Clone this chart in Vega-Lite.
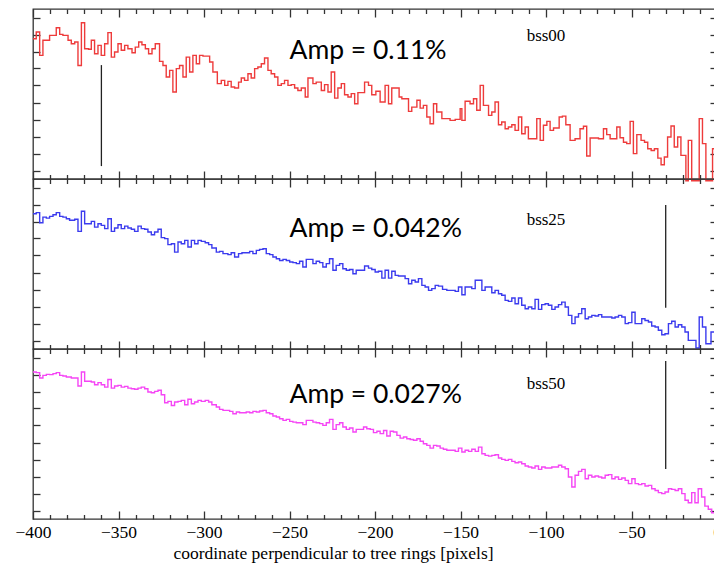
{
  "$schema": "https://vega.github.io/schema/vega-lite/v6.json",
  "padding": {"left": 14, "top": 7, "right": 0, "bottom": 0},
  "background": "white",
  "config": {
    "view": {"stroke": "#333333", "strokeWidth": 1.3},
    "concat": {"spacing": 0},
    "axis": {"grid": false, "domain": false, "tickColor": "#333333", "tickWidth": 1.3}
  },
  "datasets": {
    "bss00": [
      {"x": -400, "y": 8.75}, {"x": -398.1, "y": 9.15}, {"x": -396.1, "y": 7.77}, {"x": -394.2, "y": 8.66}, {"x": -390.3, "y": 8.95},
      {"x": -386.4, "y": 9.40}, {"x": -384.4, "y": 9.01}, {"x": -382.5, "y": 8.95}, {"x": -379.5, "y": 8.66}, {"x": -377.6, "y": 8.46},
      {"x": -375.6, "y": 8.56}, {"x": -373.7, "y": 7.18}, {"x": -371.7, "y": 9.69}, {"x": -369.8, "y": 8.16}, {"x": -367.5, "y": 8.13},
      {"x": -365.9, "y": 8.66}, {"x": -364.0, "y": 7.87}, {"x": -362.0, "y": 8.36}, {"x": -360.1, "y": 7.77}, {"x": -358.1, "y": 8.46},
      {"x": -356.2, "y": 9.11}, {"x": -354.2, "y": 7.67}, {"x": -352.3, "y": 7.97}, {"x": -350.3, "y": 8.46}, {"x": -348.4, "y": 8.07},
      {"x": -346.4, "y": 8.36}, {"x": -344.5, "y": 8.16}, {"x": -342.1, "y": 7.93}, {"x": -340.2, "y": 8.26}, {"x": -338.2, "y": 8.56},
      {"x": -336.3, "y": 8.40}, {"x": -334.3, "y": 8.16}, {"x": -332.4, "y": 7.87}, {"x": -330.4, "y": 8.16}, {"x": -328.5, "y": 8.46},
      {"x": -326.0, "y": 7.42}, {"x": -324.0, "y": 7.18}, {"x": -322.1, "y": 6.50}, {"x": -320.1, "y": 6.89}, {"x": -318.2, "y": 5.62},
      {"x": -316.2, "y": 6.99}, {"x": -314.3, "y": 7.18}, {"x": -312.3, "y": 6.50}, {"x": -310.4, "y": 7.67}, {"x": -308.4, "y": 6.79},
      {"x": -306.5, "y": 7.77}, {"x": -304.5, "y": 7.28}, {"x": -302.6, "y": 7.77}, {"x": -300.6, "y": 7.73}, {"x": -296.7, "y": 7.38},
      {"x": -294.8, "y": 6.79}, {"x": -292.2, "y": 6.11}, {"x": -289.9, "y": 6.30}, {"x": -287.9, "y": 6.01}, {"x": -286.0, "y": 6.24},
      {"x": -284.1, "y": 5.91}, {"x": -282.1, "y": 5.85}, {"x": -279.8, "y": 6.20}, {"x": -278.2, "y": 6.44}, {"x": -276.3, "y": 6.30},
      {"x": -274.3, "y": 6.69}, {"x": -272.4, "y": 6.44}, {"x": -270.4, "y": 6.99}, {"x": -268.5, "y": 7.09}, {"x": -266.5, "y": 7.28},
      {"x": -264.6, "y": 7.62}, {"x": -262.6, "y": 6.89}, {"x": -260.7, "y": 6.69}, {"x": -258.7, "y": 6.50}, {"x": -256.8, "y": 6.01},
      {"x": -254.8, "y": 6.11}, {"x": -252.9, "y": 6.30}, {"x": -250.9, "y": 6.01}, {"x": -249.0, "y": 6.05}, {"x": -247.0, "y": 5.85},
      {"x": -245.1, "y": 5.71}, {"x": -243.1, "y": 5.85}, {"x": -240.8, "y": 5.32}, {"x": -239.2, "y": 6.44}, {"x": -236.3, "y": 6.11},
      {"x": -234.4, "y": 6.20}, {"x": -231.4, "y": 5.71}, {"x": -229.5, "y": 6.05}, {"x": -227.5, "y": 5.62}, {"x": -225.6, "y": 6.79},
      {"x": -223.6, "y": 5.26}, {"x": -221.7, "y": 5.85}, {"x": -219.7, "y": 6.11}, {"x": -217.8, "y": 5.46}, {"x": -215.8, "y": 5.32},
      {"x": -213.9, "y": 5.52}, {"x": -211.9, "y": 4.93}, {"x": -210.0, "y": 5.58}, {"x": -206.1, "y": 6.20}, {"x": -203.8, "y": 6.01},
      {"x": -201.9, "y": 5.46}, {"x": -199.5, "y": 5.66}, {"x": -197.0, "y": 5.03}, {"x": -194.1, "y": 6.01}, {"x": -192.1, "y": 4.93},
      {"x": -190.2, "y": 5.85}, {"x": -185.9, "y": 5.32}, {"x": -184.3, "y": 5.22}, {"x": -180.4, "y": 4.48}, {"x": -178.5, "y": 4.73},
      {"x": -175.5, "y": 5.13}, {"x": -173.6, "y": 4.67}, {"x": -171.7, "y": 4.83}, {"x": -169.7, "y": 4.15}, {"x": -167.8, "y": 3.75},
      {"x": -165.8, "y": 4.93}, {"x": -163.9, "y": 4.44}, {"x": -160.9, "y": 4.05}, {"x": -156.1, "y": 3.95}, {"x": -153.1, "y": 4.01},
      {"x": -150.2, "y": 4.64}, {"x": -149.2, "y": 3.95}, {"x": -147.3, "y": 5.07}, {"x": -144.4, "y": 4.93}, {"x": -142.4, "y": 5.22},
      {"x": -140.5, "y": 4.54}, {"x": -138.5, "y": 6.01}, {"x": -136.6, "y": 4.83}, {"x": -133.6, "y": 4.24}, {"x": -131.7, "y": 4.44},
      {"x": -129.8, "y": 5.03}, {"x": -127.8, "y": 3.69}, {"x": -125.9, "y": 3.85}, {"x": -123.9, "y": 3.46}, {"x": -122.0, "y": 3.56},
      {"x": -120.0, "y": 3.69}, {"x": -118.1, "y": 3.36}, {"x": -116.1, "y": 4.15}, {"x": -114.2, "y": 3.16}, {"x": -112.2, "y": 3.56},
      {"x": -110.3, "y": 2.87}, {"x": -105.4, "y": 4.05}, {"x": -103.4, "y": 2.77}, {"x": -101.5, "y": 3.66}, {"x": -99.5, "y": 3.89},
      {"x": -97.6, "y": 3.36}, {"x": -95.6, "y": 3.50}, {"x": -92.3, "y": 4.15}, {"x": -90.4, "y": 4.20}, {"x": -88.4, "y": 3.69},
      {"x": -85.9, "y": 2.77}, {"x": -83.0, "y": 2.87}, {"x": -80.1, "y": 3.46}, {"x": -78.1, "y": 3.60}, {"x": -76.2, "y": 1.85},
      {"x": -74.2, "y": 2.91}, {"x": -69.3, "y": 2.87}, {"x": -66.4, "y": 3.46}, {"x": -64.5, "y": 3.11}, {"x": -62.5, "y": 2.87},
      {"x": -58.6, "y": 3.56}, {"x": -56.7, "y": 2.93}, {"x": -54.7, "y": 2.66}, {"x": -52.8, "y": 2.58}, {"x": -50.8, "y": 3.89},
      {"x": -48.9, "y": 1.99}, {"x": -46.9, "y": 3.11}, {"x": -44.4, "y": 2.77}, {"x": -42.4, "y": 2.66}, {"x": -40.5, "y": 2.28},
      {"x": -38.5, "y": 2.18}, {"x": -36.6, "y": 2.28}, {"x": -34.6, "y": 1.73}, {"x": -32.7, "y": 1.34}, {"x": -30.8, "y": 1.79},
      {"x": -28.9, "y": 2.97}, {"x": -26.9, "y": 3.62}, {"x": -25.0, "y": 2.38}, {"x": -23.0, "y": 2.97}, {"x": -21.1, "y": 1.89},
      {"x": -18.2, "y": 0.4}, {"x": -16.8, "y": 2.77}, {"x": -14.8, "y": 0.4}, {"x": -10.4, "y": 4.05}, {"x": -8.5, "y": 2.58},
      {"x": -6.5, "y": 0.4}, {"x": -2.6, "y": 2.28}, {"x": 0, "y": 2.28}
    ],
    "bss25": [
      {"x": -400, "y": 8.46}, {"x": -398.1, "y": 8.52}, {"x": -396.1, "y": 7.93}, {"x": -394.2, "y": 8.26}, {"x": -392.2, "y": 8.20},
      {"x": -390.3, "y": 8.30}, {"x": -388.3, "y": 8.40}, {"x": -386.4, "y": 8.52}, {"x": -384.4, "y": 8.30}, {"x": -382.5, "y": 8.26},
      {"x": -380.5, "y": 8.16}, {"x": -378.6, "y": 8.07}, {"x": -375.6, "y": 8.13}, {"x": -373.7, "y": 7.42}, {"x": -371.7, "y": 8.60},
      {"x": -369.8, "y": 7.87}, {"x": -365.9, "y": 8.01}, {"x": -364.0, "y": 7.67}, {"x": -362.0, "y": 7.87}, {"x": -360.1, "y": 7.77},
      {"x": -358.1, "y": 7.58}, {"x": -356.2, "y": 8.16}, {"x": -354.2, "y": 7.42}, {"x": -352.3, "y": 7.62}, {"x": -350.3, "y": 7.81},
      {"x": -348.4, "y": 7.58}, {"x": -346.4, "y": 7.73}, {"x": -344.5, "y": 7.62}, {"x": -342.5, "y": 7.54}, {"x": -340.6, "y": 7.42},
      {"x": -338.6, "y": 7.73}, {"x": -336.7, "y": 7.58}, {"x": -334.7, "y": 7.54}, {"x": -332.8, "y": 7.38}, {"x": -330.8, "y": 7.22},
      {"x": -328.9, "y": 7.38}, {"x": -326.9, "y": 7.54}, {"x": -325.0, "y": 7.05}, {"x": -323.0, "y": 6.99}, {"x": -321.1, "y": 6.64},
      {"x": -319.1, "y": 6.69}, {"x": -317.2, "y": 6.20}, {"x": -315.2, "y": 6.79}, {"x": -313.3, "y": 6.69}, {"x": -311.3, "y": 6.89},
      {"x": -309.4, "y": 6.50}, {"x": -307.4, "y": 6.89}, {"x": -305.5, "y": 6.69}, {"x": -303.5, "y": 6.89}, {"x": -301.6, "y": 6.83},
      {"x": -299.3, "y": 6.75}, {"x": -297.3, "y": 6.64}, {"x": -295.4, "y": 6.44}, {"x": -292.8, "y": 6.20}, {"x": -290.9, "y": 6.24},
      {"x": -288.9, "y": 6.11}, {"x": -286.0, "y": 6.05}, {"x": -284.1, "y": 6.16}, {"x": -282.1, "y": 5.91}, {"x": -279.8, "y": 6.11},
      {"x": -277.8, "y": 6.16}, {"x": -273.3, "y": 6.24}, {"x": -271.4, "y": 6.11}, {"x": -269.4, "y": 6.30}, {"x": -267.5, "y": 6.36},
      {"x": -265.5, "y": 6.40}, {"x": -263.6, "y": 6.11}, {"x": -261.6, "y": 6.05}, {"x": -259.7, "y": 5.91}, {"x": -257.7, "y": 5.81},
      {"x": -255.8, "y": 5.71}, {"x": -253.8, "y": 5.77}, {"x": -251.9, "y": 5.71}, {"x": -249.9, "y": 5.62}, {"x": -248.0, "y": 5.58},
      {"x": -246.0, "y": 5.52}, {"x": -244.1, "y": 5.66}, {"x": -242.2, "y": 5.32}, {"x": -240.2, "y": 5.77}, {"x": -236.3, "y": 5.52},
      {"x": -234.4, "y": 5.66}, {"x": -232.4, "y": 5.58}, {"x": -230.5, "y": 5.32}, {"x": -228.5, "y": 5.52}, {"x": -226.6, "y": 5.81},
      {"x": -224.6, "y": 5.13}, {"x": -222.7, "y": 5.42}, {"x": -220.7, "y": 5.52}, {"x": -218.8, "y": 5.22}, {"x": -216.8, "y": 5.13},
      {"x": -214.9, "y": 5.18}, {"x": -212.9, "y": 4.93}, {"x": -211.0, "y": 5.13}, {"x": -206.1, "y": 5.38}, {"x": -203.8, "y": 5.26},
      {"x": -201.9, "y": 5.18}, {"x": -199.9, "y": 5.03}, {"x": -198.0, "y": 5.07}, {"x": -196.0, "y": 4.67}, {"x": -194.1, "y": 5.13},
      {"x": -192.1, "y": 4.67}, {"x": -190.2, "y": 5.07}, {"x": -188.2, "y": 4.83}, {"x": -186.3, "y": 4.79}, {"x": -182.4, "y": 4.64},
      {"x": -180.4, "y": 4.34}, {"x": -178.5, "y": 4.54}, {"x": -176.5, "y": 4.44}, {"x": -174.6, "y": 4.64}, {"x": -172.6, "y": 4.24},
      {"x": -170.7, "y": 4.15}, {"x": -168.7, "y": 3.95}, {"x": -166.8, "y": 4.05}, {"x": -164.8, "y": 4.24}, {"x": -162.9, "y": 4.20},
      {"x": -160.5, "y": 4.01}, {"x": -158.0, "y": 3.95}, {"x": -153.1, "y": 3.89}, {"x": -151.2, "y": 4.15}, {"x": -149.2, "y": 3.69},
      {"x": -147.3, "y": 4.15}, {"x": -143.4, "y": 4.05}, {"x": -141.4, "y": 4.54}, {"x": -137.5, "y": 3.95}, {"x": -135.6, "y": 4.15},
      {"x": -131.7, "y": 3.81}, {"x": -129.8, "y": 3.95}, {"x": -127.8, "y": 3.75}, {"x": -125.9, "y": 3.66}, {"x": -123.9, "y": 3.36},
      {"x": -122.0, "y": 3.30}, {"x": -120.0, "y": 3.50}, {"x": -118.1, "y": 3.16}, {"x": -116.1, "y": 3.50}, {"x": -114.2, "y": 3.07},
      {"x": -112.2, "y": 2.87}, {"x": -110.3, "y": 2.97}, {"x": -108.3, "y": 2.87}, {"x": -106.4, "y": 3.42}, {"x": -104.4, "y": 2.83},
      {"x": -102.5, "y": 3.11}, {"x": -100.5, "y": 3.16}, {"x": -98.6, "y": 3.07}, {"x": -96.6, "y": 2.83}, {"x": -94.7, "y": 2.97},
      {"x": -92.7, "y": 3.11}, {"x": -90.8, "y": 3.26}, {"x": -88.8, "y": 2.97}, {"x": -86.9, "y": 2.48}, {"x": -84.9, "y": 1.99},
      {"x": -83.0, "y": 2.38}, {"x": -81.0, "y": 2.58}, {"x": -79.1, "y": 2.87}, {"x": -77.1, "y": 2.28}, {"x": -75.2, "y": 2.38},
      {"x": -73.2, "y": 2.48}, {"x": -71.3, "y": 2.44}, {"x": -69.3, "y": 2.52}, {"x": -67.4, "y": 2.38}, {"x": -61.5, "y": 2.32},
      {"x": -59.6, "y": 2.38}, {"x": -57.6, "y": 2.48}, {"x": -55.7, "y": 2.38}, {"x": -53.7, "y": 1.99}, {"x": -51.8, "y": 2.05},
      {"x": -49.8, "y": 2.66}, {"x": -47.9, "y": 1.99}, {"x": -44.0, "y": 2.28}, {"x": -42.1, "y": 2.18}, {"x": -40.1, "y": 2.09},
      {"x": -38.2, "y": 1.85}, {"x": -36.2, "y": 1.79}, {"x": -34.3, "y": 1.60}, {"x": -32.3, "y": 1.34}, {"x": -30.4, "y": 1.40},
      {"x": -28.4, "y": 1.99}, {"x": -26.5, "y": 2.13}, {"x": -24.5, "y": 1.79}, {"x": -22.6, "y": 1.93}, {"x": -20.6, "y": 1.79},
      {"x": -18.7, "y": 1.50}, {"x": -16.8, "y": 1.01}, {"x": -12.3, "y": 0.56}, {"x": -10.4, "y": 2.38}, {"x": -8.5, "y": 1.79},
      {"x": -6.5, "y": 0.81}, {"x": -3.5, "y": 1.50}, {"x": 0, "y": 1.50}
    ],
    "bss50": [
      {"x": -400, "y": 9.15}, {"x": -398.1, "y": 9.11}, {"x": -396.1, "y": 8.79}, {"x": -394.2, "y": 8.95}, {"x": -392.2, "y": 9.01},
      {"x": -390.3, "y": 8.99}, {"x": -388.3, "y": 9.05}, {"x": -386.4, "y": 9.11}, {"x": -384.4, "y": 8.95}, {"x": -382.5, "y": 8.91},
      {"x": -380.5, "y": 8.85}, {"x": -377.6, "y": 8.79}, {"x": -373.7, "y": 8.32}, {"x": -371.7, "y": 9.15}, {"x": -369.8, "y": 8.60},
      {"x": -365.9, "y": 8.56}, {"x": -364.0, "y": 8.40}, {"x": -362.0, "y": 8.52}, {"x": -360.1, "y": 8.40}, {"x": -358.1, "y": 8.26},
      {"x": -356.2, "y": 8.71}, {"x": -354.2, "y": 8.20}, {"x": -352.3, "y": 8.32}, {"x": -350.3, "y": 8.36}, {"x": -348.4, "y": 8.26},
      {"x": -346.4, "y": 8.30}, {"x": -344.5, "y": 8.20}, {"x": -342.5, "y": 8.16}, {"x": -340.6, "y": 8.13}, {"x": -338.6, "y": 8.20},
      {"x": -336.7, "y": 8.26}, {"x": -334.7, "y": 8.16}, {"x": -332.8, "y": 7.97}, {"x": -330.8, "y": 7.93}, {"x": -328.9, "y": 8.01},
      {"x": -326.9, "y": 8.07}, {"x": -325.0, "y": 7.81}, {"x": -323.0, "y": 7.34}, {"x": -321.1, "y": 7.42}, {"x": -319.1, "y": 7.18},
      {"x": -317.2, "y": 7.38}, {"x": -315.2, "y": 7.42}, {"x": -313.3, "y": 7.48}, {"x": -311.3, "y": 7.22}, {"x": -309.4, "y": 7.54},
      {"x": -307.4, "y": 7.28}, {"x": -305.5, "y": 7.38}, {"x": -303.5, "y": 7.48}, {"x": -301.6, "y": 7.42}, {"x": -299.3, "y": 7.48},
      {"x": -297.3, "y": 7.38}, {"x": -295.4, "y": 7.22}, {"x": -292.8, "y": 7.09}, {"x": -290.9, "y": 6.95}, {"x": -288.9, "y": 6.89},
      {"x": -285.0, "y": 6.83}, {"x": -283.1, "y": 6.69}, {"x": -281.1, "y": 6.79}, {"x": -279.2, "y": 6.75}, {"x": -275.3, "y": 6.79},
      {"x": -273.3, "y": 6.75}, {"x": -271.4, "y": 6.83}, {"x": -269.4, "y": 6.79}, {"x": -267.5, "y": 6.85}, {"x": -265.5, "y": 6.89},
      {"x": -263.6, "y": 6.75}, {"x": -261.6, "y": 6.69}, {"x": -259.7, "y": 6.56}, {"x": -257.7, "y": 6.50}, {"x": -255.8, "y": 6.40},
      {"x": -253.8, "y": 6.30}, {"x": -251.9, "y": 6.36}, {"x": -249.9, "y": 6.24}, {"x": -248.0, "y": 6.20}, {"x": -246.0, "y": 6.16},
      {"x": -242.2, "y": 6.05}, {"x": -240.2, "y": 6.30}, {"x": -236.3, "y": 6.20}, {"x": -234.4, "y": 6.16}, {"x": -232.4, "y": 6.11},
      {"x": -230.5, "y": 6.01}, {"x": -228.5, "y": 6.16}, {"x": -226.6, "y": 6.36}, {"x": -224.6, "y": 5.77}, {"x": -222.7, "y": 6.05},
      {"x": -220.7, "y": 6.16}, {"x": -218.8, "y": 5.91}, {"x": -216.8, "y": 5.77}, {"x": -214.9, "y": 5.85}, {"x": -212.9, "y": 5.62},
      {"x": -211.0, "y": 5.77}, {"x": -206.7, "y": 5.91}, {"x": -204.8, "y": 5.81}, {"x": -202.8, "y": 5.77}, {"x": -200.9, "y": 5.58},
      {"x": -198.9, "y": 5.66}, {"x": -197.0, "y": 5.52}, {"x": -195.0, "y": 5.71}, {"x": -193.1, "y": 5.38}, {"x": -191.1, "y": 5.66},
      {"x": -189.2, "y": 5.62}, {"x": -187.2, "y": 5.42}, {"x": -185.3, "y": 5.26}, {"x": -183.3, "y": 5.32}, {"x": -181.4, "y": 5.22},
      {"x": -179.4, "y": 5.18}, {"x": -177.5, "y": 5.13}, {"x": -175.5, "y": 5.22}, {"x": -173.6, "y": 5.07}, {"x": -171.7, "y": 4.93},
      {"x": -169.7, "y": 4.83}, {"x": -167.8, "y": 4.67}, {"x": -165.8, "y": 4.83}, {"x": -163.9, "y": 4.79}, {"x": -161.9, "y": 4.67},
      {"x": -160.0, "y": 4.60}, {"x": -158.0, "y": 4.54}, {"x": -153.1, "y": 4.48}, {"x": -151.2, "y": 4.67}, {"x": -149.2, "y": 4.44},
      {"x": -147.3, "y": 4.54}, {"x": -145.3, "y": 4.48}, {"x": -143.4, "y": 4.60}, {"x": -141.4, "y": 4.48}, {"x": -139.5, "y": 4.73},
      {"x": -137.5, "y": 4.34}, {"x": -135.6, "y": 4.24}, {"x": -133.6, "y": 4.20}, {"x": -131.7, "y": 4.24}, {"x": -129.8, "y": 4.28},
      {"x": -127.8, "y": 4.09}, {"x": -125.9, "y": 4.01}, {"x": -123.9, "y": 3.95}, {"x": -122.0, "y": 4.01}, {"x": -120.0, "y": 3.89},
      {"x": -118.1, "y": 3.81}, {"x": -116.1, "y": 3.85}, {"x": -114.2, "y": 3.75}, {"x": -112.2, "y": 3.62}, {"x": -110.3, "y": 3.56},
      {"x": -108.3, "y": 3.50}, {"x": -106.4, "y": 3.62}, {"x": -104.4, "y": 3.42}, {"x": -102.5, "y": 3.56}, {"x": -100.5, "y": 3.50},
      {"x": -96.6, "y": 3.56}, {"x": -92.7, "y": 3.66}, {"x": -90.8, "y": 3.56}, {"x": -88.8, "y": 3.46}, {"x": -86.9, "y": 2.97},
      {"x": -84.9, "y": 2.38}, {"x": -83.0, "y": 3.07}, {"x": -81.0, "y": 3.30}, {"x": -79.1, "y": 3.42}, {"x": -77.1, "y": 2.87},
      {"x": -75.2, "y": 3.07}, {"x": -73.2, "y": 2.97}, {"x": -71.3, "y": 3.03}, {"x": -69.3, "y": 2.97}, {"x": -67.4, "y": 2.91},
      {"x": -65.4, "y": 3.07}, {"x": -63.5, "y": 3.11}, {"x": -61.5, "y": 2.87}, {"x": -59.6, "y": 2.97}, {"x": -57.6, "y": 2.83},
      {"x": -55.7, "y": 2.91}, {"x": -53.7, "y": 2.77}, {"x": -51.8, "y": 2.58}, {"x": -49.8, "y": 2.87}, {"x": -47.9, "y": 2.58},
      {"x": -45.9, "y": 2.52}, {"x": -44.0, "y": 2.58}, {"x": -42.1, "y": 2.44}, {"x": -40.1, "y": 2.48}, {"x": -38.2, "y": 2.28},
      {"x": -36.2, "y": 2.18}, {"x": -34.3, "y": 2.05}, {"x": -32.3, "y": 1.99}, {"x": -30.4, "y": 2.09}, {"x": -28.4, "y": 2.28},
      {"x": -26.5, "y": 2.24}, {"x": -24.5, "y": 2.18}, {"x": -22.6, "y": 2.28}, {"x": -20.6, "y": 1.99}, {"x": -18.7, "y": 1.60},
      {"x": -16.8, "y": 1.46}, {"x": -14.8, "y": 2.05}, {"x": -12.9, "y": 1.46}, {"x": -11.0, "y": 2.28}, {"x": -9.0, "y": 1.79},
      {"x": -7.1, "y": 1.26}, {"x": -5.1, "y": 1.07}, {"x": -3.1, "y": 0.87}, {"x": 0, "y": 0.87}
    ]
  },
  "bounds": "flush",
  "spacing": 0,
  "vconcat": [
    {
      "width": 684, "height": 170,
      "resolve": {"axis": {"x": "independent", "y": "independent"}},
      "layer": [
        {
          "data": {"name": "bss00"},
          "mark": {"type": "line", "interpolate": "step-after", "color": "#ee3b3b", "strokeWidth": 1.4},
          "encoding": {
            "x": {"field": "x", "type": "quantitative", "scale": {"domain": [-400, 0], "nice": false, "zero": false},
              "axis": {"orient": "bottom", "title": null, "labels": false,
                "values": [-400,-390,-380,-370,-360,-350,-340,-330,-320,-310,-300,-290,-280,-270,-260,-250,-240,-230,-220,-210,-200,-190,-180,-170,-160,-150,-140,-130,-120,-110,-100,-90,-80,-70,-60,-50,-40,-30,-20,-10,0],
                "tickSize": {"condition": {"test": "datum.value % 50 === 0", "value": -8}, "value": -4.5}}},
            "y": {"field": "y", "type": "quantitative", "scale": {"domain": [0.5, 10.5], "nice": false, "zero": false},
              "axis": {"orient": "left", "title": null, "labels": false, "values": [1,2,3,4,5,6,7,8,9,10], "tickSize": -7}}
          }
        },
        {
          "data": {"values": [{"x": -360, "y": 7.2, "y2": 1.26}]},
          "mark": {"type": "rule", "color": "#222222", "strokeWidth": 1.3},
          "encoding": {
            "x": {"field": "x", "type": "quantitative",
              "axis": {"orient": "top", "title": null, "labels": false,
                "values": [-400,-390,-380,-370,-360,-350,-340,-330,-320,-310,-300,-290,-280,-270,-260,-250,-240,-230,-220,-210,-200,-190,-180,-170,-160,-150,-140,-130,-120,-110,-100,-90,-80,-70,-60,-50,-40,-30,-20,-10,0],
                "tickSize": {"condition": {"test": "datum.value % 50 === 0", "value": -8}, "value": -4.5}}},
            "y": {"field": "y", "type": "quantitative",
              "axis": {"orient": "right", "title": null, "labels": false, "values": [1,2,3,4,5,6,7,8,9,10], "tickSize": -7}},
            "y2": {"field": "y2"}
          }
        },
        {
          "data": {"values": [{"x": -250, "y": 7.56, "label": "Amp = 0.11%"}]},
          "mark": {"type": "text", "font": "Lato", "fontSize": 26.5, "align": "left", "baseline": "alphabetic", "color": "#000000"},
          "encoding": {
            "x": {"field": "x", "type": "quantitative", "axis": null},
            "y": {"field": "y", "type": "quantitative", "axis": null},
            "text": {"field": "label"}
          }
        },
        {
          "data": {"values": [{"x": -100, "y": 8.62, "label": "bss00"}]},
          "mark": {"type": "text", "font": "Liberation Serif", "fontSize": 17, "align": "center", "baseline": "alphabetic", "color": "#000000"},
          "encoding": {
            "x": {"field": "x", "type": "quantitative", "axis": null},
            "y": {"field": "y", "type": "quantitative", "axis": null},
            "text": {"field": "label"}
          }
        }
      ]
    },
    {
      "width": 684, "height": 170,
      "resolve": {"axis": {"x": "independent", "y": "independent"}},
      "layer": [
        {
          "data": {"name": "bss25"},
          "mark": {"type": "line", "interpolate": "step-after", "color": "#3b3bee", "strokeWidth": 1.4},
          "encoding": {
            "x": {"field": "x", "type": "quantitative", "scale": {"domain": [-400, 0], "nice": false, "zero": false},
              "axis": {"orient": "bottom", "title": null, "labels": false,
                "values": [-400,-390,-380,-370,-360,-350,-340,-330,-320,-310,-300,-290,-280,-270,-260,-250,-240,-230,-220,-210,-200,-190,-180,-170,-160,-150,-140,-130,-120,-110,-100,-90,-80,-70,-60,-50,-40,-30,-20,-10,0],
                "tickSize": {"condition": {"test": "datum.value % 50 === 0", "value": -8}, "value": -4.5}}},
            "y": {"field": "y", "type": "quantitative", "scale": {"domain": [0.5, 10.5], "nice": false, "zero": false},
              "axis": {"orient": "left", "title": null, "labels": false, "values": [1,2,3,4,5,6,7,8,9,10], "tickSize": -7}}
          }
        },
        {
          "data": {"values": [{"x": -30, "y": 8.97, "y2": 2.93}]},
          "mark": {"type": "rule", "color": "#222222", "strokeWidth": 1.3},
          "encoding": {
            "x": {"field": "x", "type": "quantitative",
              "axis": {"orient": "top", "title": null, "labels": false,
                "values": [-400,-390,-380,-370,-360,-350,-340,-330,-320,-310,-300,-290,-280,-270,-260,-250,-240,-230,-220,-210,-200,-190,-180,-170,-160,-150,-140,-130,-120,-110,-100,-90,-80,-70,-60,-50,-40,-30,-20,-10,0],
                "tickSize": {"condition": {"test": "datum.value % 50 === 0", "value": -8}, "value": -4.5}}},
            "y": {"field": "y", "type": "quantitative",
              "axis": {"orient": "right", "title": null, "labels": false, "values": [1,2,3,4,5,6,7,8,9,10], "tickSize": -7}},
            "y2": {"field": "y2"}
          }
        },
        {
          "data": {"values": [{"x": -250, "y": 7.09, "label": "Amp = 0.042%"}]},
          "mark": {"type": "text", "font": "Lato", "fontSize": 26.5, "align": "left", "baseline": "alphabetic", "color": "#000000"},
          "encoding": {
            "x": {"field": "x", "type": "quantitative", "axis": null},
            "y": {"field": "y", "type": "quantitative", "axis": null},
            "text": {"field": "label"}
          }
        },
        {
          "data": {"values": [{"x": -100, "y": 7.78, "label": "bss25"}]},
          "mark": {"type": "text", "font": "Liberation Serif", "fontSize": 17, "align": "center", "baseline": "alphabetic", "color": "#000000"},
          "encoding": {
            "x": {"field": "x", "type": "quantitative", "axis": null},
            "y": {"field": "y", "type": "quantitative", "axis": null},
            "text": {"field": "label"}
          }
        }
      ]
    },
    {
      "width": 684, "height": 170,
      "resolve": {"axis": {"x": "independent", "y": "independent"}},
      "layer": [
        {
          "data": {"name": "bss50"},
          "mark": {"type": "line", "interpolate": "step-after", "color": "#f545f5", "strokeWidth": 1.4},
          "encoding": {
            "x": {"field": "x", "type": "quantitative", "scale": {"domain": [-400, 0], "nice": false, "zero": false},
              "axis": {"orient": "bottom", "title": "coordinate perpendicular to tree rings [pixels]",
                "values": [-400,-390,-380,-370,-360,-350,-340,-330,-320,-310,-300,-290,-280,-270,-260,-250,-240,-230,-220,-210,-200,-190,-180,-170,-160,-150,-140,-130,-120,-110,-100,-90,-80,-70,-60,-50,-40,-30,-20,-10,0],
                "tickSize": {"condition": {"test": "datum.value % 50 === 0", "value": -8}, "value": -4.5},
                "labelExpr": "datum.value % 50 === 0 ? datum.label : ''",
                "labelFlush": false, "labelOverlap": false, "labelBound": false,
                "labelFont": "Liberation Serif", "labelFontSize": 17.5, "labelColor": "#000000",
                "labelBaseline": "alphabetic", "labelPadding": 26.5,
                "titleFont": "Liberation Serif", "titleFontSize": 17.5, "titleFontWeight": "normal", "titleColor": "#000000",
                "titleX": 300, "titleY": 39, "titleAlign": "center", "titleBaseline": "alphabetic", "titleAnchor": null}},
            "y": {"field": "y", "type": "quantitative", "scale": {"domain": [0.5, 10.5], "nice": false, "zero": false},
              "axis": {"orient": "left", "title": null, "labels": false, "values": [1,2,3,4,5,6,7,8,9,10], "tickSize": -7}}
          }
        },
        {
          "data": {"values": [{"x": -30, "y": 9.8, "y2": 3.44}]},
          "mark": {"type": "rule", "color": "#222222", "strokeWidth": 1.3},
          "encoding": {
            "x": {"field": "x", "type": "quantitative",
              "axis": {"orient": "top", "title": null, "labels": false,
                "values": [-400,-390,-380,-370,-360,-350,-340,-330,-320,-310,-300,-290,-280,-270,-260,-250,-240,-230,-220,-210,-200,-190,-180,-170,-160,-150,-140,-130,-120,-110,-100,-90,-80,-70,-60,-50,-40,-30,-20,-10,0],
                "tickSize": {"condition": {"test": "datum.value % 50 === 0", "value": -8}, "value": -4.5}}},
            "y": {"field": "y", "type": "quantitative",
              "axis": {"orient": "right", "title": null, "labels": false, "values": [1,2,3,4,5,6,7,8,9,10], "tickSize": -7}},
            "y2": {"field": "y2"}
          }
        },
        {
          "data": {"values": [{"x": -250, "y": 7.32, "label": "Amp = 0.027%"}]},
          "mark": {"type": "text", "font": "Lato", "fontSize": 26.5, "align": "left", "baseline": "alphabetic", "color": "#000000"},
          "encoding": {
            "x": {"field": "x", "type": "quantitative", "axis": null},
            "y": {"field": "y", "type": "quantitative", "axis": null},
            "text": {"field": "label"}
          }
        },
        {
          "data": {"values": [{"x": -100, "y": 8.16, "label": "bss50"}]},
          "mark": {"type": "text", "font": "Liberation Serif", "fontSize": 17, "align": "center", "baseline": "alphabetic", "color": "#000000"},
          "encoding": {
            "x": {"field": "x", "type": "quantitative", "axis": null},
            "y": {"field": "y", "type": "quantitative", "axis": null},
            "text": {"field": "label"}
          }
        }
      ]
    }
  ]
}
